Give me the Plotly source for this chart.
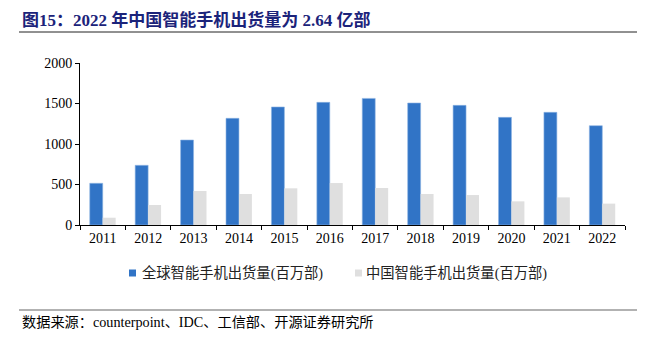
import plotly.graph_objects as go

years = ["2011", "2012", "2013", "2014", "2015", "2016", "2017", "2018", "2019", "2020", "2021", "2022"]
global_ship = [515, 737, 1049, 1317, 1457, 1514, 1563, 1506, 1477, 1329, 1391, 1226]
china_ship = [90, 247, 420, 383, 453, 518, 457, 383, 370, 292, 341, 264]
name_global = "全球智能手机出货量(百万部)"
name_china = "中国智能手机出货量(百万部)"
title_text = "图15：2022 年中国智能手机出货量为 2.64 亿部"
source_text = "数据来源：counterpoint、IDC、工信部、开源证券研究所"

blue = "#3174C6"
gray = "#DFDFDF"
serif = "Liberation Serif, Noto Sans CJK SC, serif"
W, H = 651, 337
L, R, T, B = 80, 26, 63, 112

fig = go.Figure()
fig.add_bar(x=years, y=global_ship, name=name_global,
            marker=dict(color=blue, line=dict(color="#8DB3E2", width=0.6)))
fig.add_bar(x=years, y=china_ship, name=name_china,
            marker=dict(color=gray, line=dict(width=0)))

fig.update_layout(
    width=W, height=H,
    margin=dict(l=L, r=R, t=T, b=B, pad=0),
    paper_bgcolor="white", plot_bgcolor="white",
    barmode="group", bargap=0.43, bargroupgap=0,
    font=dict(family=serif, size=14, color="#000000"),
    showlegend=False,
)
fig.update_xaxes(type="category", showline=True, linecolor="#000000", linewidth=1,
                 ticks="outside", tickson="boundaries", ticklen=4, tickcolor="#000000",
                 showgrid=False, tickfont=dict(size=14, family=serif))
fig.update_yaxes(range=[0, 2000], dtick=500, showline=True, linecolor="#000000", linewidth=1,
                 ticks="outside", ticklen=4, tickcolor="#000000", showgrid=False,
                 zeroline=False, tickfont=dict(size=14, family=serif))


def px_x(x):
    return (x - L) / (W - L - R)


def px_y(y):
    return 1 - (y - T) / (H - T - B)


# title
fig.add_annotation(text="<b>" + title_text + "</b>", xref="paper", yref="paper",
                   x=px_x(20), y=px_y(20), xanchor="left", yanchor="middle", showarrow=False,
                   font=dict(size=17, color="#1B237A", family=serif))
fig.add_shape(type="line", xref="paper", yref="paper", x0=px_x(19), x1=px_x(637),
              y0=px_y(32), y1=px_y(32), line=dict(color="#222222", width=1))

# legend (manual)
for sx, tx, col, name in [(129, 140, blue, name_global), (355, 364, gray, name_china)]:
    fig.add_shape(type="rect", xref="paper", yref="paper",
                  x0=px_x(sx), x1=px_x(sx + 7), y0=px_y(269.5), y1=px_y(276.5),
                  line=dict(width=0), fillcolor=col)
    fig.add_annotation(text=name, xref="paper", yref="paper", x=px_x(tx), y=px_y(273),
                       xanchor="left", yanchor="middle", showarrow=False,
                       font=dict(size=14.3, color="#222222", family=serif))

# source
fig.add_shape(type="line", xref="paper", yref="paper", x0=px_x(19), x1=px_x(637),
              y0=px_y(310), y1=px_y(310), line=dict(color="#999999", width=1.5))
fig.add_annotation(text=source_text, xref="paper", yref="paper",
                   x=px_x(20), y=px_y(322), xanchor="left", yanchor="middle", showarrow=False,
                   font=dict(size=14.2, color="#000000", family=serif))

fig.write_html("out.html")
